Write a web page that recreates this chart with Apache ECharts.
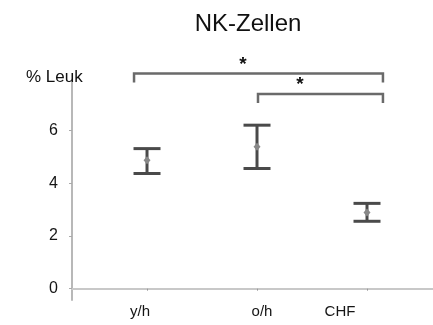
<!DOCTYPE html>
<html><head><meta charset="utf-8">
<script src="https://cdn.jsdelivr.net/npm/echarts@6/dist/echarts.min.js"></script>
<style>html,body{margin:0;padding:0;background:#fff}#c{width:433px;height:325px}</style>
</head><body><div id="c"></div>
<script>
var groups = ['y/h', 'o/h', 'CHF'];
var meanVals = [4.88, 5.39, 2.89];
var upperVals = [5.32, 6.21, 3.24];
var lowerVals = [4.375, 4.565, 2.56];
var yTicks = [0, 2, 4, 6];
// significance brackets (x-scale values where each bracket starts/ends, level on y-scale)
var bracketStart = [0.882, 2.009];
var bracketEnd = [3.145, 3.145];
var bracketLevel = [8.17, 7.39];
var bracketLabel = ['*', '*'];
var bracketLabelX = [1.873, 2.391];

var xPos = groups.map(function (g, i) { return i + 1; });
var errData = groups.map(function (g, i) { return [xPos[i], lowerVals[i], upperVals[i], meanVals[i]]; });
var brData = bracketStart.map(function (s, i) { return [s, bracketEnd[i], bracketLevel[i], bracketLabelX[i]]; });

var chart = echarts.init(document.getElementById('c'), null, {renderer: 'canvas'});
var labelShift = {'y/h': 'a', 'o/h': 'b', 'CHF': 'c'};
var lblFont = {fontFamily: 'Liberation Sans', fontSize: 15, color: '#151515'};
chart.setOption({
  animation: false,
  title: [
    {text: 'NK-Zellen', left: 243, textAlign: 'center', top: 7,
     textStyle: {fontFamily: 'Liberation Sans', fontSize: 24, fontWeight: 'normal', color: '#111'}},
    {text: '% Leuk', left: 21, top: 64,
     textStyle: {fontFamily: 'Liberation Sans', fontSize: 17, fontWeight: 'normal', color: '#111'}}
  ],
  grid: {left: 72, right: 0, top: 82, bottom: 25},
  xAxis: {
    type: 'value', min: 0.318, max: 3.6,
    splitLine: {show: false},
    axisLine: {show: true, lineStyle: {color: '#c8c8c8', width: 2}},
    axisTick: {show: true, customValues: xPos, length: 2, lineStyle: {color: '#999', width: 1}},
    axisLabel: {
      customValues: xPos, margin: 4,
      formatter: function (v) { var g = groups[Math.round(v) - 1]; return '{' + labelShift[g] + '|' + g + '}'; },
      rich: {
        a: Object.assign({padding: [0, 14, 0, 0]}, lblFont),
        b: Object.assign({padding: [0, 0, 0, 10]}, lblFont),
        c: Object.assign({padding: [0, 54, 0, 0]}, lblFont)
      }
    }
  },
  yAxis: {
    type: 'value', min: -0.43, max: 7.85,
    splitLine: {show: false},
    axisLine: {show: true, lineStyle: {color: '#b8b8b8', width: 2}},
    axisTick: {show: true, customValues: yTicks, length: 3, lineStyle: {color: '#aaa', width: 1}},
    axisLabel: {customValues: yTicks, margin: 14, fontFamily: 'Liberation Sans', fontSize: 16, color: '#151515', padding: [4, 0, 0, 0]}
  },
  series: [
    {
      type: 'custom',
      data: errData,
      clip: false,
      renderItem: function (params, api) {
        var x = api.value(0);
        var lo = api.coord([x, api.value(1)]);
        var hi = api.coord([x, api.value(2)]);
        var m = api.coord([x, api.value(3)]);
        var hw = 13.5;
        var st = {stroke: '#4a4a4a', lineWidth: 3};
        return {type: 'group', children: [
          {type: 'line', shape: {x1: hi[0], y1: hi[1], x2: lo[0], y2: lo[1]}, style: st},
          {type: 'line', shape: {x1: hi[0] - hw, y1: hi[1], x2: hi[0] + hw, y2: hi[1]}, style: st},
          {type: 'line', shape: {x1: lo[0] - hw, y1: lo[1], x2: lo[0] + hw, y2: lo[1]}, style: st},
          {type: 'polygon', shape: {points: [[m[0], m[1] - 4], [m[0] + 3.5, m[1]], [m[0], m[1] + 4], [m[0] - 3.5, m[1]]]},
           style: {fill: '#888'}}
        ]};
      }
    },
    {
      type: 'custom',
      data: brData,
      clip: false,
      renderItem: function (params, api) {
        var a = api.coord([api.value(0), api.value(2)]);
        var b = api.coord([api.value(1), api.value(2)]);
        var s = api.coord([api.value(3), api.value(2)]);
        var x1 = a[0], x2 = b[0], y = a[1];
        var st = {stroke: '#6a6a6a', lineWidth: 2.5};
        return {type: 'group', children: [
          {type: 'polyline', shape: {points: [[x1, y + 9], [x1, y], [x2, y], [x2, y + 9]]}, style: Object.assign({fill: null}, st)},
          {type: 'text', x: s[0], y: y - 9,
           style: {text: bracketLabel[params.dataIndex], fontFamily: 'Liberation Sans', fontSize: 19, fontWeight: 'bold', fill: '#111', align: 'center', verticalAlign: 'middle'}}
        ]};
      }
    }
  ]
});
</script></body></html>
